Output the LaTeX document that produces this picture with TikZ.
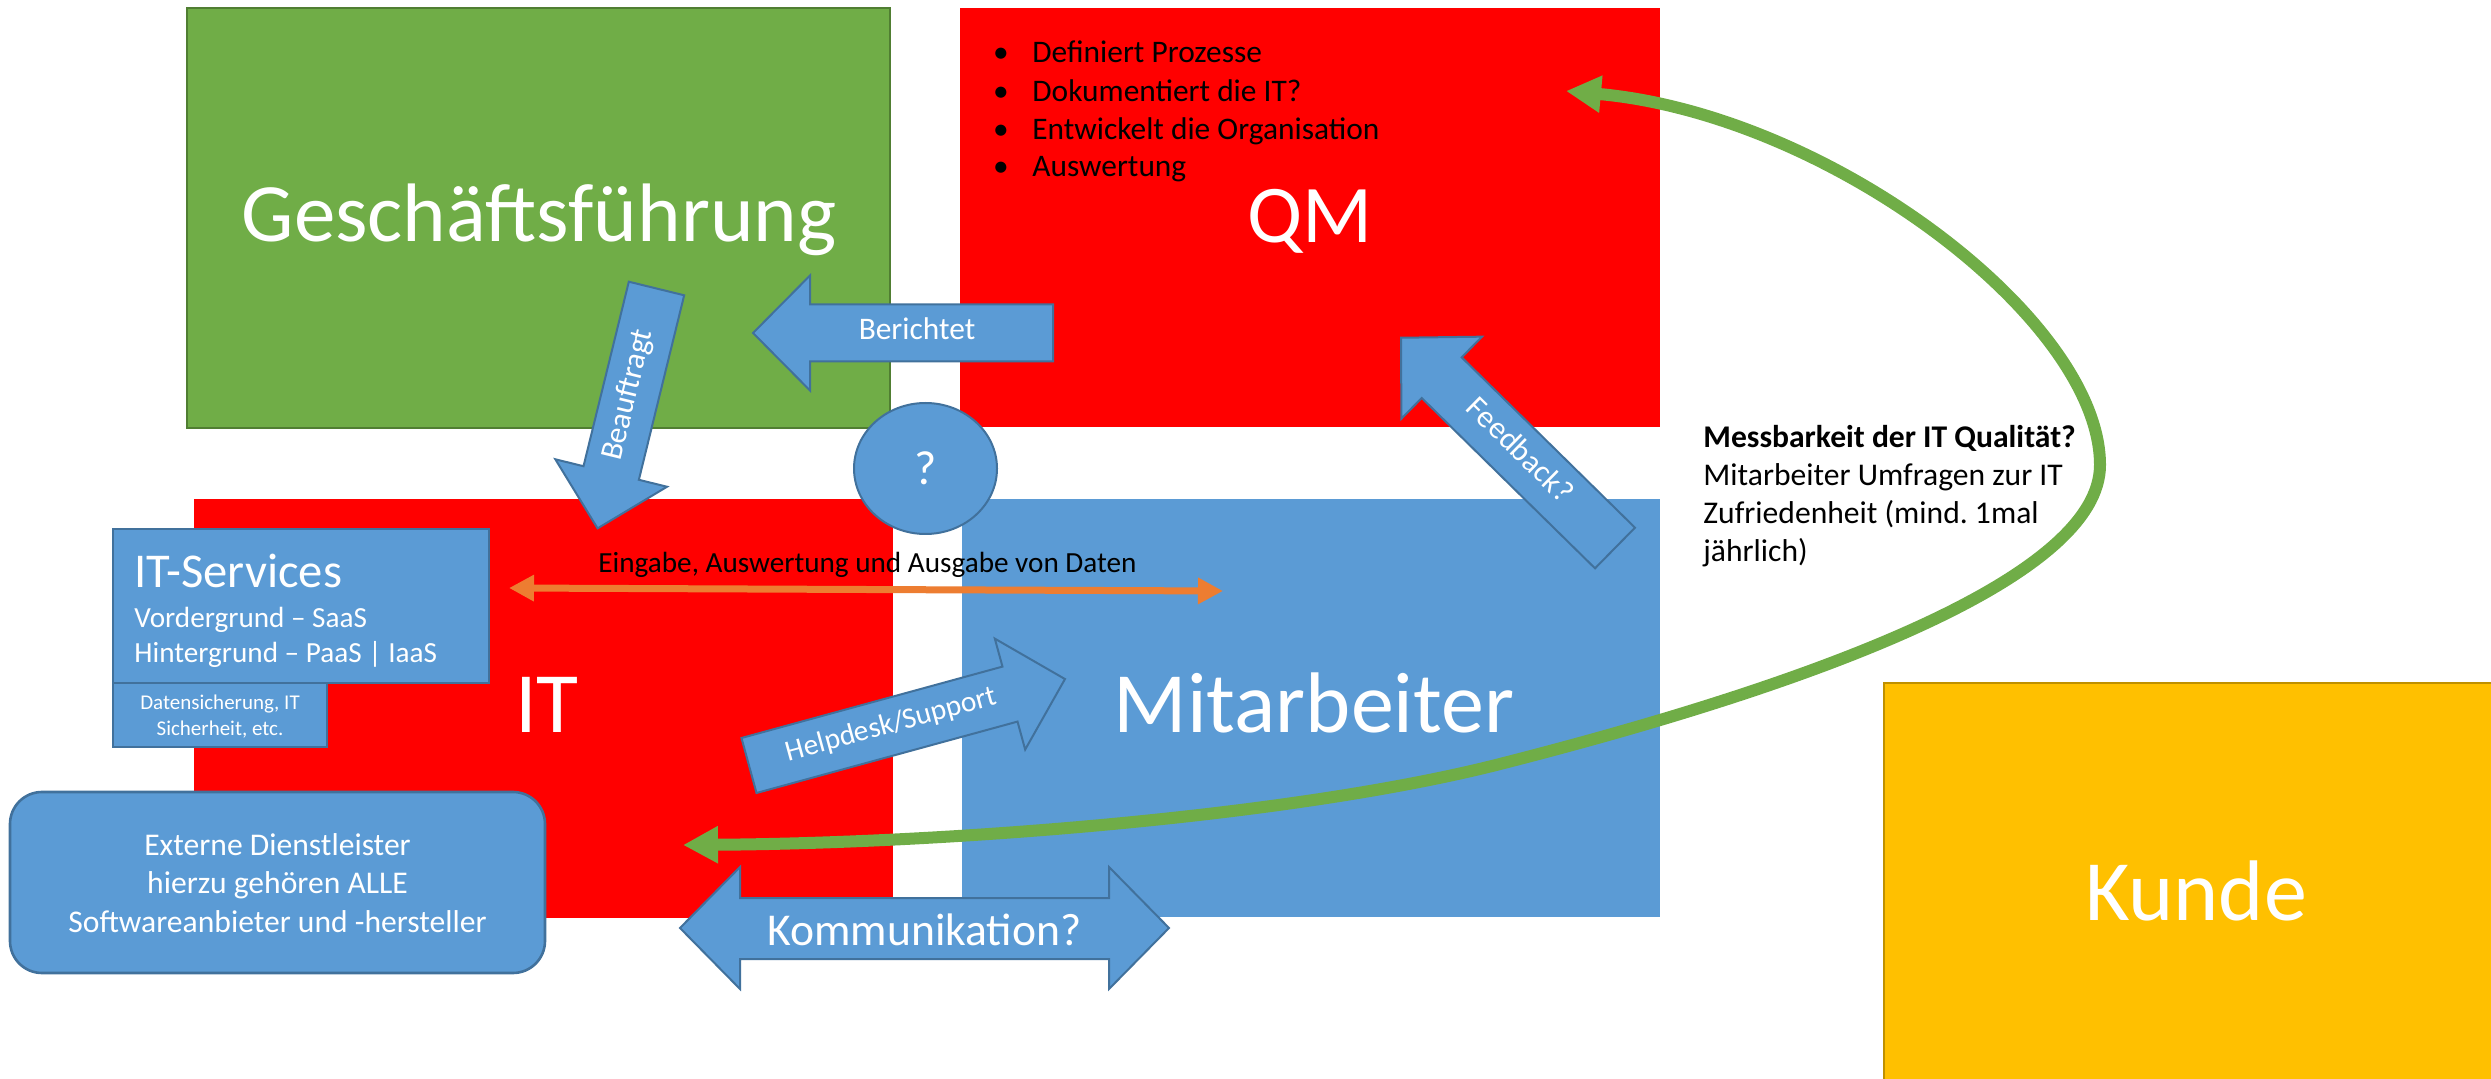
\documentclass[tikz,border=0pt]{standalone}
\usepackage{fontspec}
\setmainfont{Carlito}
\frenchspacing
\usetikzlibrary{arrows.meta,shapes.geometric}
\definecolor{gfgreen}{HTML}{70AD47}
\definecolor{gfborder}{HTML}{507E32}
\definecolor{qmred}{HTML}{FF0000}
\definecolor{mablue}{HTML}{5B9BD5}
\definecolor{blueborder}{HTML}{41719C}
\definecolor{kundeorange}{HTML}{FFC000}
\definecolor{kundeborder}{HTML}{BF9000}
\definecolor{datorange}{HTML}{ED7D31}
\tikzset{
  gtip/.tip={Triangle[length=17.5pt,width=17.5pt]},
  otip/.tip={Triangle[length=12.5pt,width=12.5pt]}
}
\begin{document}
\begin{tikzpicture}[x=0.5pt,y=-0.5pt,
  area/.style={anchor=north west, inner sep=0pt, outer sep=0pt},
  bigtext/.style={text=white, anchor=base, inner sep=0pt, font=\fontsize{43}{43}\selectfont},
  barrow/.style={fill=mablue, draw=blueborder, line width=1pt, line join=miter},
  arrowtext/.style={text=white, inner sep=0pt, text height=0.644em, text depth=0pt, font=\fontsize{15.7}{18}\selectfont},
  listtext/.style={text=black, inner sep=0pt, font=\fontsize{15.7}{19}\selectfont},
  whitetext/.style={text=white, inner sep=0pt}
]
\useasboundingbox (0,0) rectangle (2491,1079);

% main areas
\node[area, fill=gfgreen, draw=gfborder, line width=1.2pt, minimum width=351.5pt, minimum height=210pt] (gfbox) at (187,8) {};
\node[area, fill=qmred, minimum width=350pt, minimum height=209.5pt] (qmbox) at (960,8) {};
\node[area, fill=qmred, minimum width=349.5pt, minimum height=209.5pt] (itbox) at (194,499) {};
\node[area, fill=mablue, minimum width=349pt, minimum height=209pt] (mabox) at (962,499) {};
\node[area, fill=kundeorange, draw=kundeborder, line width=0.8pt, minimum width=320pt, minimum height=215pt] (kundebox) at (1884,683) {};

% big labels
\node[bigtext, font=\fontsize{41.5}{42}\selectfont] (gf) at (539,242) {Geschäftsführung};
\node[bigtext, font=\fontsize{41}{41}\selectfont] (qm) at (1310,243) {QM};
\node[bigtext] (it) at (547,733) {IT};
\node[bigtext] (ma) at (1314,733) {Mitarbeiter};
\node[bigtext] (kunde) at (2196,920) {Kunde};

% QM bullet list
\foreach \yy/\txt [count=\i] in {63/Definiert Prozesse,102/Dokumentiert die IT?,140/Entwickelt die Organisation,177/Auswertung}{
  \node[listtext, anchor=base] (bullet\i) at (1001,\yy) {•};
  \node[listtext, anchor=base west] (item\i) at (1032,\yy) {\txt};
}

% IT-Services boxes
\node[area, fill=mablue, draw=blueborder, line width=1.3pt, minimum width=188pt, minimum height=77pt] (itsbox) at (113,529) {};
\node[area, fill=mablue, draw=blueborder, line width=1.3pt, minimum width=107pt, minimum height=32pt] (dsbox) at (113,683) {};
\node[whitetext, anchor=base west, font=\fontsize{24.3}{25}\selectfont] (itstitle) at (134,588) {IT-Services};
\node[whitetext, anchor=base west, align=left, font=\fontsize{14.6}{17.5}\selectfont] (itslines) at (134,663) {Vordergrund – SaaS\\Hintergrund – PaaS | IaaS};
\node[whitetext, anchor=base, align=center, font=\fontsize{10.5}{13}\selectfont] (dstext) at (220,735) {Datensicherung, IT\\Sicherheit, etc.};

% Externe Dienstleister
\node[area, fill=mablue, draw=blueborder, line width=1.3pt, rounded corners=16pt, minimum width=267.5pt, minimum height=90.5pt] (extbox) at (10,792) {};
\node[whitetext, anchor=base, align=center, font=\fontsize{15.8}{19.25}\selectfont] (exttext) at (277.5,932) {Externe Dienstleister\\hierzu gehören ALLE\\Softwareanbieter und -hersteller};

% question ellipse
\node[ellipse, fill=mablue, draw=blueborder, line width=1pt, inner sep=0pt, minimum width=71.5pt, minimum height=65.5pt, text=white, font=\fontsize{24}{24}\selectfont] (frage) at (925.5,468.5) {?};

% Berichtet
\begin{scope}[shift={(1053,333)}, rotate=180]
  \draw[barrow] (0,-28.5) -- (243,-28.5) -- (243,-57.5) -- (300,0) -- (243,57.5) -- (243,28.5) -- (0,28.5) -- cycle;
  \node[arrowtext] (berichtet) at (136,0) {Berichtet};
\end{scope}

% Beauftragt
\begin{scope}[shift={(656.5,288.5)}, rotate=256.2]
  \draw[barrow] (0,-28.5) -- (190,-28.5) -- (190,-57.5) -- (247,0) -- (190,57.5) -- (190,28.5) -- (0,28.5) -- cycle;
  \node[arrowtext, rotate=76.2] (beauftragt) at (110,0) {Beauftragt};
\end{scope}

% Helpdesk/Support
\begin{scope}[shift={(749,765.5)}, rotate=15.3]
  \draw[barrow] (0,-28.5) -- (270.6,-28.5) -- (270.6,-57.5) -- (327.6,0) -- (270.6,57.5) -- (270.6,28.5) -- (0,28.5) -- cycle;
  \node[arrowtext, rotate=15.3, font=\fontsize{14.7}{17}\selectfont] (helpdesk) at (148,0) {Helpdesk/Support};
\end{scope}

% Feedback?
\begin{scope}[shift={(1615,548)}, rotate=135.5]
  \draw[barrow] (0,-28.5) -- (243,-28.5) -- (243,-57.5) -- (300,0) -- (243,57.5) -- (243,28.5) -- (0,28.5) -- cycle;
  \node[arrowtext, rotate=-44.5] (feedback) at (136.5,0) {Feedback?};
\end{scope}

% Kommunikation?
\draw[barrow] (680,928) -- (740,867) -- (740,898) -- (1109,898) -- (1109,867) -- (1169,928) -- (1109,989) -- (1109,959) -- (740,959) -- (740,989) -- cycle;
\node[whitetext, anchor=base, font=\fontsize{22.8}{23}\selectfont] (komm) at (924.5,945) {Kommunikation?};

% Eingabe arrow
\coordinate (oleft) at (509,588);
\coordinate (oright) at (1223,591);
\draw[line width=3.5pt, datorange, {otip}-{otip}] (oleft) -- (oright);
\node[listtext, anchor=base west, font=\fontsize{14.6}{17}\selectfont] (eingabe) at (598,573) {Eingabe, Auswertung und Ausgabe von Daten};

% green loop
\coordinate (gtop) at (1566,91);
\coordinate (gbot) at (683,845);
\draw[line width=6pt, gfgreen, {gtip}-{gtip}] (gtop) .. controls (1830,115) and (2100,320) .. (2100,465) .. controls (2100,575) and (1830,680) .. (1500,764) .. controls (1300,815) and (960,843) .. (gbot);

% Messbarkeit text
\node[listtext, anchor=base west, align=left, font=\fontsize{15.8}{19}\selectfont] (mess) at (1703,562) {\textbf{Messbarkeit der IT Qualität?}\\Mitarbeiter Umfragen zur IT\\Zufriedenheit (mind. 1mal\\jährlich)};

\end{tikzpicture}
\end{document}
